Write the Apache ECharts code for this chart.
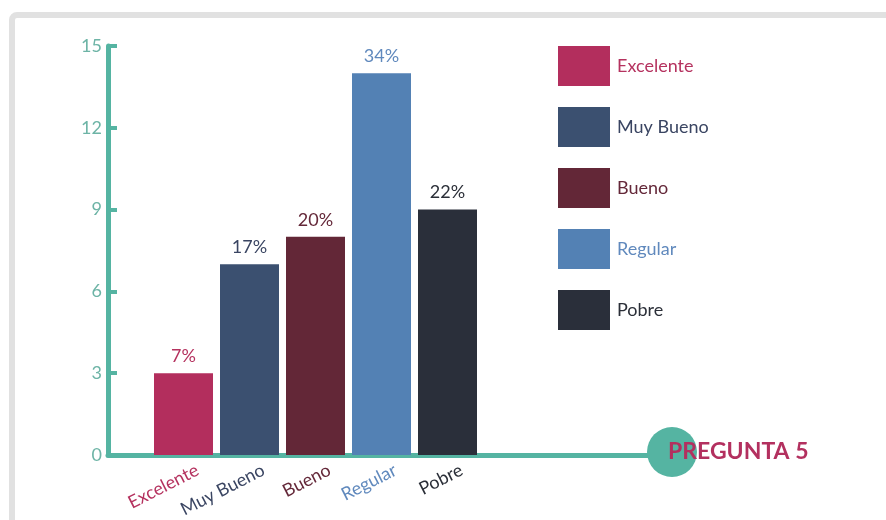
<!DOCTYPE html>
<html><head><meta charset="utf-8">
<script src="https://cdn.jsdelivr.net/npm/echarts@6/dist/echarts.min.js"></script>
<style>html,body{margin:0;padding:0;background:#fff}#c{width:886px;height:520px}</style>
</head><body><div id="c"></div>
<script>
const categories = ['Excelente', 'Muy Bueno', 'Bueno', 'Regular', 'Pobre'];
const values = [3, 7, 8, 14, 9];
const pctLabels = ['7%', '17%', '20%', '34%', '22%'];
const yTicks = [0, 3, 6, 9, 12, 15];
const barColors = ['#b32e5d', '#3b5070', '#632737', '#5381b4', '#2a2f3a'];
const textColors = ['#b5325f', '#3a4562', '#642839', '#6089bd', '#2b2f38'];
const titleText = 'PREGUNTA 5';

const teal = '#55b4a2';
const FONT = 'Lato';
const chart = echarts.init(document.getElementById('c'));

const series = categories.map((name, i) => ({
  name: name,
  type: 'bar',
  xAxisIndex: 1, yAxisIndex: 1,
  stack: 'all',
  barWidth: 59,
  itemStyle: { color: barColors[i] },
  label: {
    show: true, position: 'top', distance: 8,
    formatter: () => pctLabels[i],
    color: textColors[i], fontFamily: FONT, fontSize: 18
  },
  data: values.map((v, j) => j === i ? v : '-')
}));

chart.setOption({
  animation: false,
  graphic: [
    { type: 'rect', z: -10, shape: { x: 12, y: 15, width: 900, height: 600, r: 5 },
      style: { fill: '#fff', stroke: '#e1e1e1', lineWidth: 6 } },
    { type: 'circle', z: 10, shape: { cx: 672, cy: 452, r: 25 }, style: { fill: teal } },
    { type: 'text', z: 11, x: 668, y: 452,
      style: { text: titleText, fill: '#b3305f', font: 'bold 23px Lato', textVerticalAlign: 'middle' } }
  ],
  legend: {
    orient: 'vertical', left: 558, top: 46, padding: 0,
    itemWidth: 52, itemHeight: 40, itemGap: 21,
    icon: 'rect',
    textStyle: { fontFamily: FONT, fontSize: 18, padding: [0, 0, 0, 2] },
    data: categories.map((c, i) => ({ name: c, textStyle: { color: textColors[i] } }))
  },
  grid: [
    { left: 108, top: 46, width: 540, height: 409 },
    { left: 150.5, top: 46, width: 330, height: 409 },
    { left: 164.5, top: 46, width: 330, height: 409 }
  ],
  xAxis: [
    { gridIndex: 0, type: 'value', min: 0, max: 1,
      axisLine: { show: true, lineStyle: { color: teal, width: 5 } },
      axisTick: { show: false }, axisLabel: { show: false }, splitLine: { show: false } },
    { gridIndex: 1, type: 'category', data: categories,
      axisLine: { show: false }, axisTick: { show: false }, axisLabel: { show: false } },
    { gridIndex: 2, type: 'category',
      data: categories.map((c, i) => ({ value: c, textStyle: { color: textColors[i] } })),
      axisLine: { show: false }, axisTick: { show: false },
      axisLabel: { rotate: 27, margin: 21, fontFamily: FONT, fontSize: 18 } }
  ],
  yAxis: [
    { gridIndex: 0, type: 'value', min: yTicks[0], max: yTicks[yTicks.length - 1], interval: 3,
      axisLine: { show: true, lineStyle: { color: teal, width: 5 } },
      axisTick: { show: true, inside: true, length: 9, lineStyle: { color: teal, width: 4 } },
      axisLabel: { color: '#6db4a6', fontFamily: FONT, fontSize: 18, margin: 6 },
      splitLine: { show: false } },
    { gridIndex: 1, type: 'value', min: 0, max: 15, show: false },
    { gridIndex: 2, type: 'value', min: 0, max: 15, show: false }
  ],
  series: series
});
</script></body></html>
